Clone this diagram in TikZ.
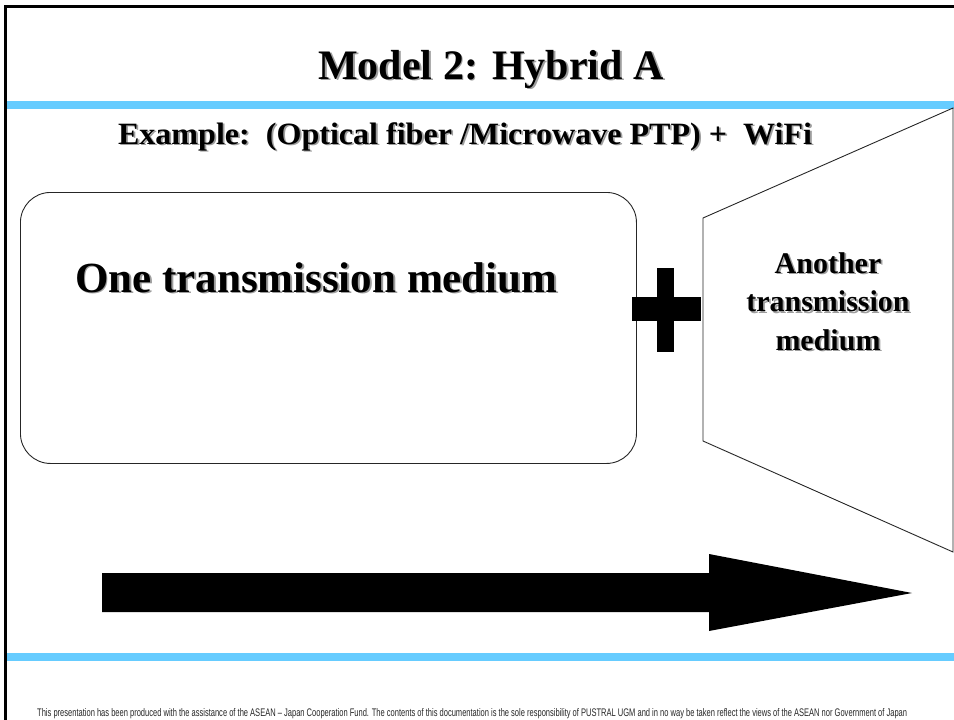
\documentclass[tikz,border=0pt]{standalone}
\usepackage{fontspec}
\usepackage{graphicx}
\setmainfont{Liberation Serif}
\newfontfamily\footfont{Liberation Sans}
\definecolor{bandblue}{RGB}{102,204,255}
\tikzset{
  txt/.style={inner sep=0pt, outer sep=0pt, font=\bfseries},
  shadowcol/.style={text=black!38},
  outline/.style={draw=black!85, line width=0.9pt},
}
% text with a soft drop shadow: #1 name, #2 position, #3 options, #4 text
\newcommand\shadowed[4]{%
  \node[txt, shadowcol, #3, xshift=1.8pt, yshift=-1.8pt] (#1-shadow) at (#2) {#4};
  \node[txt, #3] (#1) at (#2) {#4};
}
\begin{document}
\begin{tikzpicture}[x=1pt, y=-1pt]
\useasboundingbox (0,0) rectangle (954,720);

% slide frame (top and left edges)
\draw[line width=3pt] (5.5,720) -- (5.5,6) -- (954,6);

% blue rules
\fill[bandblue] (7,101) rectangle (954,109);
\fill[bandblue] (7,653) rectangle (954,661);

% title
\shadowed{title}{491,79}{anchor=base, font=\fontsize{42}{50}\selectfont\bfseries}{Model 2: Hybrid A}

% example line
\shadowed{example}{118,144}{anchor=base west, font=\fontsize{31}{37}\selectfont\bfseries}{\resizebox{694pt}{\height}{Example:\ \ (Optical fiber /Microwave PTP) +\ \ WiFi}}

% first medium box
\node[outline, rounded corners=30pt, minimum width=616pt, minimum height=271pt,
      anchor=north west, inner sep=0pt] (boxA) at (20,192) {};
\shadowed{labelA}{75,292}{anchor=base west, font=\fontsize{43}{50}\selectfont\bfseries}{One transmission medium}

% second medium (trapezoid)
\coordinate (tA) at (703,218);
\coordinate (tB) at (953,108);
\coordinate (tC) at (953,552);
\coordinate (tD) at (703,441);
\draw[outline] (tA) -- (tB) -- (tC) -- (tD) -- cycle;
% base anchor of a multi-line node sits on its last line
\shadowed{labelB}{828,350}{anchor=base, align=center, font=\fontsize{30}{38.5}\selectfont\bfseries}{Another\\transmission\\medium}

% plus sign
\fill[black] (632,297) rectangle (701,321);
\fill[black] (657,268) rectangle (674,352);

% big arrow
\fill[black] (102,573) -- (709,573) -- (709,554) -- (912,593) -- (709,631)
  -- (709,612) -- (102,612) -- cycle;

% footer
\node[inner sep=0pt, anchor=base west, font=\footfont\fontsize{11}{13}\selectfont, text=black!85]
  (footer) at (37,716) {\resizebox{870pt}{\height}{This presentation has been produced with the assistance of the ASEAN – Japan Cooperation Fund. The contents of this documentation is the sole responsibility of PUSTRAL UGM and in no way be taken reflect the views of the ASEAN nor Government of Japan}};
\end{tikzpicture}
\end{document}
